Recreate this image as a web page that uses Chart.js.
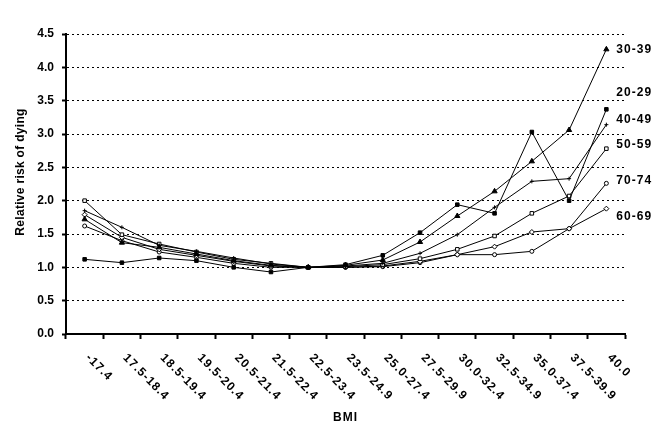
<!DOCTYPE html>
<html>
<head>
<meta charset="utf-8">
<script src="https://cdn.jsdelivr.net/npm/chart.js@4.4.0/dist/chart.umd.min.js"></script>
<style>
  html, body { margin: 0; padding: 0; background: #fff; }
</style>
</head>
<body>
<canvas id="chart" width="672" height="442"></canvas>
<script>
// --- data ---
const bmiLabels = ['-17.4', '17.5-18.4', '18.5-19.4', '19.5-20.4', '20.5-21.4', '21.5-22.4', '22.5-23.4',
                   '23.5-24.9', '25.0-27.4', '27.5-29.9', '30.0-32.4', '32.5-34.9', '35.0-37.4', '37.5-39.9', '40.0'];

const age20_29 = [1.12, 1.07, 1.14, 1.10, 1.00, 0.93, 1.00, 1.04, 1.18, 1.52, 1.94, 1.81, 3.03, 2.00, 3.37];
const age30_39 = [1.72, 1.37, 1.30, 1.20, 1.10, 1.03, 1.00, 1.03, 1.11, 1.38, 1.77, 2.14, 2.59, 3.06, 4.27];
const age40_49 = [1.85, 1.60, 1.33, 1.24, 1.14, 1.05, 1.00, 1.02, 1.06, 1.21, 1.49, 1.90, 2.29, 2.33, 3.14];
const age50_59 = [2.00, 1.49, 1.35, 1.23, 1.12, 1.06, 1.00, 1.01, 1.04, 1.13, 1.27, 1.47, 1.81, 2.07, 2.78];
const age60_69 = [1.79, 1.45, 1.27, 1.18, 1.09, 1.02, 1.00, 1.00, 1.02, 1.09, 1.19, 1.31, 1.53, 1.58, 1.88];
const age70_74 = [1.62, 1.40, 1.23, 1.15, 1.06, 1.00, 1.00, 1.00, 1.01, 1.07, 1.19, 1.19, 1.24, 1.58, 2.26];

// series names and the level (in y units) where each name sits at the right end
const seriesNames  = ['20-29', '30-39', '40-49', '50-59', '60-69', '70-74'];
const seriesValues = [age20_29, age30_39, age40_49, age50_59, age60_69, age70_74];
const nameLevels   = [3.62, 4.27, 3.22, 2.84, 1.76, 2.30];

const yTitle = 'Relative risk of dying';
const xTitle = 'BMI';

// marker per series
const markers = [
    { style: 'rect',     radius: 2.5, fill: '#000' },
    { style: 'triangle', radius: 3,   fill: '#000' },
    { style: 'cross',    radius: 2,   fill: '#000' },
    { style: 'rect',     radius: 2.5, fill: '#fff' },
    { style: 'rectRot',  radius: 2.5, fill: '#fff' },
    { style: 'circle',   radius: 2,   fill: '#fff' }
];

const FONT = '"Liberation Sans", Arial, sans-serif';

const datasets = seriesValues.map((vals, i) => ({
    label: seriesNames[i],
    data: vals,
    borderColor: '#000',
    borderWidth: 1,
    backgroundColor: markers[i].fill,
    pointStyle: markers[i].style,
    pointRadius: markers[i].radius,
    pointBorderColor: '#000',
    pointBackgroundColor: markers[i].fill,
    pointBorderWidth: 1,
    tension: 0,
    fill: false
}));

// texts the axes can't do here (clockwise labels, names at line ends)
const textPlugin = {
    id: 'texts',
    afterDraw(chart) {
        const { ctx, chartArea, scales: { x, y } } = chart;
        ctx.save();
        ctx.fillStyle = '#000';
        ctx.font = `bold 12px ${FONT}`;
        ctx.letterSpacing = '1px';

        // x tick labels, rotated 45deg clockwise
        bmiLabels.forEach((lab, i) => {
            const px = x.getPixelForValue(i);
            ctx.save();
            ctx.translate(px + 3, chartArea.bottom + 22);
            ctx.rotate(Math.PI / 4);
            ctx.textAlign = 'left';
            ctx.textBaseline = 'middle';
            ctx.fillText(lab, 0, 0);
            ctx.restore();
        });

        // series names
        const lastX = x.getPixelForValue(bmiLabels.length - 1);
        ctx.textAlign = 'left';
        ctx.textBaseline = 'middle';
        seriesNames.forEach((name, i) => {
            ctx.fillText(name, lastX + 10, y.getPixelForValue(nameLevels[i]));
        });

        // x title
        ctx.textAlign = 'center';
        ctx.fillText(xTitle, (chartArea.left + chartArea.right) / 2, 418);

        // y title
        ctx.letterSpacing = '0.3px';
        ctx.save();
        ctx.translate(21, 172);
        ctx.rotate(-Math.PI / 2);
        ctx.textAlign = 'center';
        ctx.textBaseline = 'middle';
        ctx.fillText(yTitle, 0, 0);
        ctx.restore();

        ctx.restore();
    }
};

new Chart(document.getElementById('chart').getContext('2d'), {
    type: 'line',
    data: { labels: bmiLabels, datasets },
    options: {
        responsive: false,
        animation: false,
        devicePixelRatio: 1,
        layout: { padding: { top: 34, right: 47, left: 0, bottom: 0 } },
        plugins: {
            legend:  { display: false },
            tooltip: { enabled: false }
        },
        scales: {
            x: {
                offset: true,
                grid: {
                    offset: true,
                    drawOnChartArea: false,
                    drawTicks: true,
                    tickLength: 5,
                    tickWidth: 2,
                    tickColor: '#000'
                },
                border: { display: true, color: '#000', width: 2 },
                ticks: { display: false, autoSkip: false },
                afterFit: (scale) => { scale.height = 108; }
            },
            y: {
                min: 0, max: 4.5,
                grid: {
                    color: '#000',
                    lineWidth: 1,
                    tickLength: 4,
                    tickWidth: 2,
                    tickColor: '#000'
                },
                border: { display: true, color: '#000', width: 2, dash: [2, 3] },
                ticks: {
                    stepSize: 0.5,
                    color: '#000',
                    padding: 8,
                    font: { family: FONT, size: 12, weight: 'bold' },
                    callback: (v) => Number(v).toFixed(1)
                },
                afterFit: (scale) => { scale.width = 66; }
            }
        }
    },
    plugins: [textPlugin]
});
</script>
</body>
</html>
